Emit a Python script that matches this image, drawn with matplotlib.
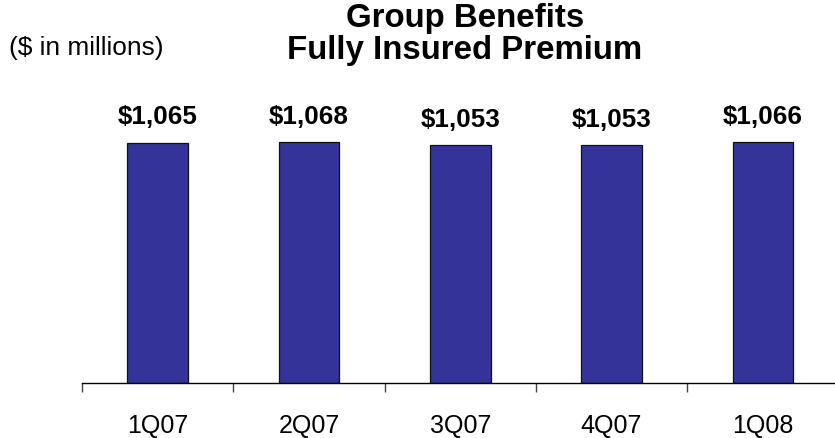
import matplotlib
matplotlib.use("Agg")
from matplotlib import pyplot as plt

quarters = ["1Q07", "2Q07", "3Q07", "4Q07", "1Q08"]
premium = [1065, 1068, 1053, 1053, 1066]

plt.rcParams['font.family'] = ['Liberation Sans', 'DejaVu Sans']

W, H = 835, 438
fig = plt.figure(figsize=(W / 100, H / 100), dpi=100)

# axes in pixel terms: baseline at y=383, 151.3 px per category
left, base, top = 82, 383, 100
ax = fig.add_axes([left / W, (H - base) / H, 5 * 151.3 / W, (base - top) / H])
px_per_unit = 240.3 / 1065
ax.set_ylim(0, (base - top) / px_per_unit)
ax.set_xlim(-0.5, len(quarters) - 0.5)

x = list(range(len(quarters)))
ax.bar(x, premium, width=0.40, color="#333399", edgecolor="#111111", linewidth=0.9)

for xi, v in zip(x, premium):
    ax.annotate(f"${v:,}", (xi, v), xytext=(0, 13.3), textcoords="offset points",
                ha="center", va="baseline", fontsize=18.7, fontweight="bold")

for s in ("left", "top", "right"):
    ax.spines[s].set_visible(False)
ax.spines["bottom"].set_color("black")
ax.spines["bottom"].set_linewidth(1.0)
ax.set_yticks([])

ax.set_xticks(x)
ax.set_xticklabels(quarters, fontsize=18)
ax.tick_params(axis="x", which="major", length=0, pad=22)
ax.set_xticks([i - 0.5 for i in range(len(quarters) + 1)], minor=True)
ax.tick_params(axis="x", which="minor", length=6.5, width=1.0, color="#444444")

fig.text(465 / W, 1 - 27 / H, "Group Benefits", ha="center", va="baseline",
         fontsize=23.8, fontweight="bold")
fig.text(465 / W, 1 - 59 / H, "Fully Insured Premium", ha="center", va="baseline",
         fontsize=23.8, fontweight="bold")
fig.text(9 / W, 1 - 55 / H, "($ in millions)", ha="left", va="baseline", fontsize=18.9)

fig.savefig("out.png", dpi=100)
